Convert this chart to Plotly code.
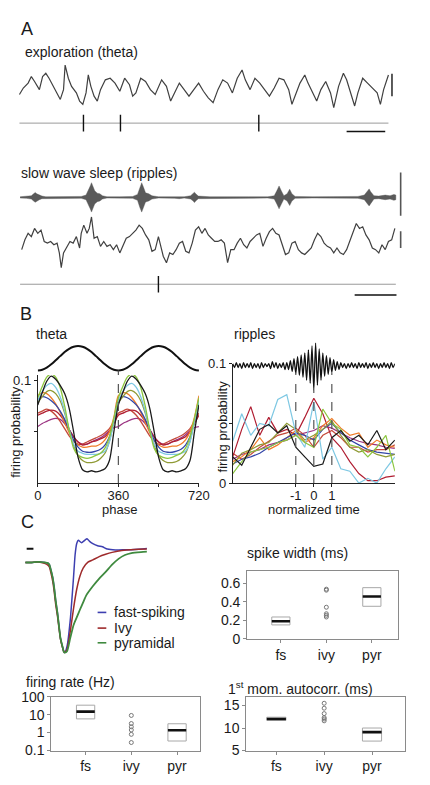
import plotly.graph_objects as go

W, H = 430, 785
FONT = "Liberation Sans, Arial, Helvetica, sans-serif"
TXT = "#1a1a1a"

# ======================= DATA =======================
# ---- Panel A : exploration (theta) LFP, time (ms) / amplitude (a.u.)
THETA_LFP_T = [48, 60, 75, 85, 95, 110, 120, 130, 140, 150, 160, 175, 185, 190, 200, 210, 225, 235, 245, 255,
               262, 270, 280, 290, 300, 315, 330, 345, 360, 375, 390, 400, 410, 425, 440, 455, 470, 490, 505, 518,
               530, 545, 560, 575, 590, 605, 620, 635, 650, 665, 680, 695, 710, 725, 740, 750, 765, 780, 795, 810,
               825, 840, 855, 870, 885, 895, 905, 920, 935, 945, 960, 972, 985, 1000, 1015, 1025, 1040, 1055, 1065,
               1080, 1090, 1100, 1115, 1130, 1145, 1160, 1170, 1180, 1195]
THETA_LFP_V = [-1.5, 0.5, 2.0, 4.0, 2.5, 0.0, 4.0, 5.0, 3.5, 1.5, -0.5, -3.0, 0.0, 7.5, 3.5, 1.0, -1.0, -3.5, -4.5, -1.0,
               4.5, 1.0, -2.0, -3.5, 0.0, 3.0, 3.5, 2.0, -0.5, 3.5, 1.5, -2.0, -1.0, 3.5, 2.5, 0.0, -1.5, 3.0, 1.0, -3.5,
               -1.0, 2.0, 0.0, -2.0, 0.0, 2.0, -0.5, -2.5, -4.0, 0.0, 3.0, 2.0, -1.0, 3.5, 6.0, 3.0, 0.0, 3.5, 2.0, 0.0,
               -2.0, 0.5, 3.5, 3.0, 0.0, -4.5, -2.0, 2.0, 4.5, 2.0, -1.0, -3.5, 0.0, 2.5, -1.0, -5.5, 1.0, 5.0, 3.0,
               -1.5, -5.0, -1.0, 3.5, 2.0, 0.5, -1.0, -4.5, 0.0, 4.5]
THETA_SPIKES_T = [247, 362, 792]

# ---- Panel A : slow wave sleep, ripple-band envelope and raw LFP
RIPPLE_ENV_T = [50, 70, 85, 92, 97, 102, 110, 118, 130, 160, 200, 240, 255, 262, 268, 272, 276, 282, 290, 298,
                306, 320, 360, 400, 415, 422, 428, 434, 440, 450, 460, 480, 530, 545, 560, 580, 588, 592, 596, 604,
                640, 700, 760, 820, 840, 848, 855, 862, 870, 880, 888, 895, 905, 960, 1040, 1100, 1120, 1130, 1135,
                1140, 1150, 1165, 1185, 1200, 1212, 1218]
RIPPLE_ENV = [0.2, 0.3, 0.5, 1.1, 1.5, 1.1, 0.7, 0.4, 0.2, 0.2, 0.3, 0.3, 0.7, 2.0, 3.5, 4.5, 3.5, 2.0, 1.3, 1.1,
              0.5, 0.2, 0.2, 0.3, 0.9, 3.0, 4.5, 3.0, 1.4, 1.1, 0.5, 0.2, 0.3, 0.4, 0.2, 0.5, 1.1, 1.6, 1.1, 0.4,
              0.2, 0.3, 0.2, 0.2, 0.5, 2.0, 3.5, 2.0, 0.5, 1.1, 2.5, 1.1, 0.3, 0.2, 0.2, 0.3, 0.7, 2.0, 2.6,
              1.7, 0.5, 0.4, 0.7, 0.5, 0.9, 0.7]
SLEEP_LFP_T = [55, 65, 75, 85, 95, 105, 115, 125, 135, 145, 155, 165, 172, 178, 185, 195, 205, 215, 225, 235,
               240, 248, 258, 265, 272, 280, 290, 300, 310, 320, 330, 340, 350, 360, 370, 380, 390, 400, 410, 420,
               430, 440, 450, 460, 470, 480, 487, 495, 505, 515, 525, 535, 545, 555, 565, 575, 585, 595, 605, 615,
               625, 635, 645, 655, 665, 675, 685, 695, 705, 715, 725, 735, 745, 755, 765, 775, 785, 795, 805, 815,
               825, 835, 845, 855, 865, 875, 885, 895, 905, 915, 925, 935, 945, 955, 965, 975, 985, 995, 1005, 1015,
               1025, 1035, 1045, 1055, 1065, 1075, 1085, 1095, 1105, 1115, 1125, 1135, 1145, 1155, 1165, 1175, 1185,
               1195, 1205, 1215]
SLEEP_LFP_V = [-1.5, 1.5, 3.5, 2.5, 5.0, 3.5, 4.5, 1.0, 0.5, 1.0, 0.0, 0.5, -2.5, -7.0, -2.5, -0.5, 1.0, 0.5, 2.5, -1.0,
               3.5, 6.0, 3.5, 5.0, 8.5, 2.0, 2.5, -0.5, 1.0, -0.5, 0.0, -1.5, 0.0, -2.5, -0.5, 2.0, 2.5, 3.5, 4.5, 6.0,
               5.0, 3.0, 1.5, -2.0, -1.5, 2.5, 0.0, -3.5, -5.5, -2.5, -3.0, -1.5, 0.5, 1.0, -2.0, -2.5, 0.5, 4.5, 5.5, 3.5,
               5.0, 3.0, 2.0, 1.0, 1.0, 1.5, 0.5, -5.5, -1.5, -1.5, 0.5, 2.0, 0.0, -1.0, 1.0, 2.0, 3.0, 3.5, -0.5, 2.0,
               4.0, 5.0, 3.5, 3.0, 0.0, -3.0, -2.5, 0.5, 1.0, -1.5, -2.5, -3.0, -2.0, -1.0, 1.5, 3.5, 2.5, 0.5, -0.5, -1.0,
               -2.5, -1.0, -2.5, -3.0, -1.5, 1.0, 3.5, 6.5, 5.0, 5.5, 3.0, 1.5, -1.0, -1.5, -2.5, 0.0, -1.5,
               1.0, 1.5, 5.0]
SLEEP_SPIKES_T = [480]

# ---- Panel B : phase preference (9 cells), one theta cycle (phase 0..340, step 20), shown twice
PHASE_CYCLE = [0, 20, 40, 60, 80, 100, 120, 140, 160, 180, 200, 220, 240, 260, 280, 300, 320, 340]
THETA_REF = [-1, -0.94, -0.77, -0.5, -0.17, 0.17, 0.5, 0.77, 0.94, 1, 0.94, 0.77, 0.5, 0.17, -0.17, -0.5, -0.77, -0.94]
CELL_COLORS = ["#1a1a1a", "#8cc63f", "#7ec8e3", "#8f9a34", "#3446a8", "#f07d2a", "#b01e32", "#c4493a", "#9b3382"]
THETA_PROB = [
    [0.076, 0.088, 0.099, 0.104, 0.101, 0.095, 0.087, 0.073, 0.050, 0.025, 0.013, 0.011, 0.012, 0.011, 0.012, 0.014, 0.022, 0.050],
    [0.083, 0.094, 0.103, 0.106, 0.103, 0.093, 0.075, 0.052, 0.034, 0.027, 0.025, 0.024, 0.025, 0.027, 0.029, 0.034, 0.045, 0.063],
    [0.080, 0.089, 0.095, 0.097, 0.093, 0.084, 0.070, 0.052, 0.038, 0.031, 0.029, 0.028, 0.028, 0.028, 0.029, 0.031, 0.040, 0.060],
    [0.078, 0.084, 0.089, 0.090, 0.087, 0.080, 0.068, 0.052, 0.037, 0.027, 0.022, 0.020, 0.020, 0.021, 0.024, 0.029, 0.041, 0.060],
    [0.081, 0.084, 0.083, 0.080, 0.076, 0.070, 0.062, 0.052, 0.042, 0.035, 0.031, 0.030, 0.030, 0.031, 0.033, 0.037, 0.045, 0.060],
    [0.085, 0.088, 0.087, 0.083, 0.077, 0.069, 0.059, 0.049, 0.041, 0.037, 0.035, 0.035, 0.036, 0.036, 0.038, 0.042, 0.050, 0.064],
    [0.066, 0.068, 0.070, 0.071, 0.070, 0.066, 0.060, 0.052, 0.045, 0.040, 0.037, 0.038, 0.040, 0.041, 0.043, 0.045, 0.050, 0.058],
    [0.068, 0.070, 0.072, 0.070, 0.066, 0.060, 0.053, 0.046, 0.041, 0.038, 0.038, 0.040, 0.042, 0.044, 0.046, 0.049, 0.053, 0.060],
    [0.055, 0.058, 0.060, 0.062, 0.063, 0.062, 0.058, 0.052, 0.045, 0.040, 0.038, 0.038, 0.040, 0.042, 0.044, 0.047, 0.051, 0.054],
]
THETA_MARKS = [360]

# ---- Panel B : ripple-triggered firing (normalized time -4.5..4.5, step 0.5)
RIPPLE_T = [-4.5, -4.0, -3.5, -3.0, -2.5, -2.0, -1.5, -1.0, -0.5, 0.0, 0.5, 1.0, 1.5, 2.0, 2.5, 3.0, 3.5, 4.0, 4.5]
RIPPLE_PROB = [
    [0.022, 0.015, 0.030, 0.045, 0.049, 0.042, 0.048, 0.030, 0.022, 0.014, 0.016, 0.038, 0.044, 0.035, 0.040, 0.032, 0.044, 0.028, 0.036],
    [0.008, 0.018, 0.026, 0.028, 0.030, 0.034, 0.036, 0.040, 0.034, 0.030, 0.062, 0.050, 0.045, 0.032, 0.030, 0.022, 0.030, 0.040, 0.010],
    [0.035, 0.058, 0.040, 0.050, 0.048, 0.070, 0.074, 0.042, 0.030, 0.068, 0.020, 0.030, 0.012, 0.010, 0.000, 0.004, 0.000, 0.012, 0.022],
    [0.015, 0.025, 0.028, 0.032, 0.034, 0.042, 0.050, 0.045, 0.036, 0.040, 0.045, 0.052, 0.040, 0.030, 0.026, 0.028, 0.024, 0.022, 0.024],
    [0.016, 0.020, 0.022, 0.025, 0.030, 0.034, 0.038, 0.042, 0.040, 0.036, 0.045, 0.050, 0.042, 0.036, 0.032, 0.028, 0.026, 0.025, 0.024],
    [0.018, 0.022, 0.028, 0.038, 0.028, 0.032, 0.038, 0.044, 0.034, 0.038, 0.048, 0.054, 0.046, 0.040, 0.042, 0.030, 0.036, 0.032, 0.030],
    [0.022, 0.045, 0.064, 0.040, 0.055, 0.042, 0.045, 0.040, 0.055, 0.071, 0.058, 0.038, 0.030, 0.018, 0.008, 0.002, 0.002, 0.005, 0.006],
    [0.025, 0.020, 0.024, 0.030, 0.035, 0.040, 0.042, 0.046, 0.040, 0.030, 0.040, 0.044, 0.038, 0.030, 0.030, 0.026, 0.028, 0.028, 0.032],
    [0.020, 0.024, 0.026, 0.028, 0.032, 0.034, 0.036, 0.040, 0.042, 0.044, 0.048, 0.046, 0.042, 0.038, 0.035, 0.033, 0.032, 0.030, 0.029],
]
RIPPLE_MARKS = [-1, 0, 1]
# example ripple trace, extrema every 0.1 normalized time from -4.5 to 4.5
RIPPLE_TRACE_T0, RIPPLE_TRACE_DT = -4.5, 0.1
RIPPLE_TRACE = [2, -2, 3, -2, 2, -3, 3, -2, 2, -2, 3, -3, 2, -2, 2, -3, 3, -2, 2, -1,
                2, -3, 4, -2, 3, -3, 2, -2, 3, -4, 3,
                -4, 5, -6, 7, -8, 9, -10, 11, -12, 13, -15, 16, -18, 20, -25, 23, -20, 17, -15, 13,
                -11, 10, -9, 8, -7, 6, -5, 4, -4,
                3, -2, 2, -3, 2, -2, 3, -2, 2, -3, 3, -2, 2, -2, 3, -3, 2, -2, 3, -2,
                2, -3, 2, -2, 3, -2, 2, -3, 3, -2, 2]

# ---- Panel C : average spike waveforms (time ms, normalized amplitude)
WAVE_LABELS = ["fast-spiking", "Ivy", "pyramidal"]
WAVE_COLORS = ["#3d3fb0", "#9e2a2b", "#3f8a3f"]
WAVE_T = [
    [-0.82, -0.69, -0.55, -0.42, -0.35, -0.32, -0.29, -0.25, -0.22, -0.19, -0.15, -0.12, -0.09, -0.05, -0.02, 0.0,
     0.047, 0.113, 0.18, 0.213, 0.247, 0.28, 0.347, 0.413, 0.46, 0.513, 0.58, 0.68, 0.78, 0.88, 1.047, 1.247, 1.447, 1.713],
    [-0.82, -0.69, -0.55, -0.42, -0.35, -0.32, -0.29, -0.25, -0.22, -0.19, -0.15, -0.12, -0.09, -0.05, -0.02, 0.0,
     0.047, 0.113, 0.18, 0.247, 0.313, 0.38, 0.48, 0.58, 0.713, 0.847, 0.98, 1.18, 1.447, 1.713],
    [-0.82, -0.69, -0.55, -0.42, -0.35, -0.32, -0.29, -0.25, -0.22, -0.19, -0.15, -0.12, -0.09, -0.05, -0.02, 0.0,
     0.047, 0.113, 0.18, 0.247, 0.313, 0.38, 0.447, 0.58, 0.713, 0.847, 0.98, 1.113, 1.247, 1.38, 1.58, 1.713],
]
WAVE_A = [
    [0, 0, 0.007, 0, -0.007, -0.025, -0.08, -0.17, -0.28, -0.42, -0.57, -0.71, -0.84, -0.93, -0.99, -1.0,
     -0.93, -0.64, -0.17, 0.083, 0.21, 0.246, 0.22, 0.246, 0.264, 0.235, 0.21, 0.185, 0.174, 0.149, 0.138, 0.141, 0.145, 0.156],
    [0, 0, 0.005, -0.01, -0.03, -0.05, -0.11, -0.21, -0.32, -0.46, -0.6, -0.73, -0.85, -0.94, -0.99, -1.0,
     -0.967, -0.768, -0.514, -0.297, -0.152, -0.062, 0.004, 0.029, 0.065, 0.091, 0.112, 0.134, 0.145, 0.149],
    [0, 0, 0.007, 0, -0.007, -0.025, -0.08, -0.17, -0.28, -0.42, -0.57, -0.71, -0.84, -0.93, -0.99, -1.0,
     -0.986, -0.84, -0.696, -0.609, -0.525, -0.442, -0.362, -0.264, -0.178, -0.105, -0.025, 0.04, 0.083, 0.105, 0.116, 0.12],
]

# ---- Panel C : group statistics (fs, ivy, pyr)
GROUPS = ["fs", "ivy", "pyr"]
BOX_GROUPS = [1, 3]           # groups summarised as boxes (fs, pyr); ivy shown as individual cells
SW_Q1, SW_MED, SW_Q3 = [0.15, 0.35], [0.19, 0.455], [0.235, 0.55]
SW_IVY = [0.534, 0.523, 0.34, 0.27, 0.253, 0.235]
FR_Q1, FR_MED, FR_Q3 = [5.8, 0.34], [14.7, 1.35], [33.6, 3.1]
FR_IVY = [9.0, 3.2, 2.1, 1.4, 0.8, 0.28]
AC_Q1, AC_MED, AC_Q3 = [11.7, 7.1], [12.0, 9.1], [12.4, 10.0]
AC_IVY = [15.5, 14.4, 13.2, 12.3, 12.0, 11.6]

# ======================= FIGURE =======================
fig = go.Figure()


def dx(a, b):
    return [a / W, b / W]


def dy(top, bottom):
    return [1 - bottom / H, 1 - top / H]


def add(tr, xa, ya):
    tr.update(xaxis=xa, yaxis=ya, showlegend=False, hoverinfo="skip")
    fig.add_trace(tr)


# ---- Panel A
add(go.Scatter(x=THETA_LFP_T, y=THETA_LFP_V, mode="lines", line=dict(color="#404040", width=1.2)), "x", "y")


def raster(spikes, t0, t1, ya):
    add(go.Scatter(x=[t0, t1], y=[0, 0], mode="lines", line=dict(color="#9a9a9a", width=1)), "x", ya)
    xs, ys = [], []
    for s in spikes:
        xs += [s, s, None]
        ys += [-0.85, 0.85, None]
    add(go.Scatter(x=xs, y=ys, mode="lines", line=dict(color="#111", width=1.4)), "x", ya)


raster(THETA_SPIKES_T, THETA_LFP_T[0], THETA_LFP_T[-1], "y2")

add(go.Scatter(x=RIPPLE_ENV_T + RIPPLE_ENV_T[::-1],
               y=RIPPLE_ENV + [-e for e in RIPPLE_ENV[::-1]],
               mode="lines", fill="toself", fillcolor="#5a5a5a",
               line=dict(color="#5a5a5a", width=0.4)), "x", "y3")
add(go.Scatter(x=SLEEP_LFP_T, y=SLEEP_LFP_V, mode="lines", line=dict(color="#404040", width=1.2)), "x", "y4")
raster(SLEEP_SPIKES_T, RIPPLE_ENV_T[0], RIPPLE_ENV_T[-1], "y5")

# ---- Panel B theta
phase_full = PHASE_CYCLE + [p + 360 for p in PHASE_CYCLE] + [720]
add(go.Scatter(x=phase_full, y=THETA_REF + THETA_REF + [THETA_REF[0]], mode="lines",
               line=dict(color="#111", width=2, shape="spline")), "x2", "y7")
for i in range(len(THETA_PROB) - 1, -1, -1):
    vals = THETA_PROB[i]
    add(go.Scatter(x=phase_full, y=vals + vals + [vals[0]], mode="lines",
                   line=dict(color=CELL_COLORS[i], width=1.3, shape="spline", smoothing=0.8)), "x2", "y6")

# ---- Panel B ripples
rt = [RIPPLE_TRACE_T0 + RIPPLE_TRACE_DT * k for k in range(len(RIPPLE_TRACE))]
add(go.Scatter(x=rt, y=RIPPLE_TRACE, mode="lines", line=dict(color="#111", width=1.3, shape="spline", smoothing=0.6)),
    "x3", "y9")
for i in range(len(RIPPLE_PROB) - 1, -1, -1):
    add(go.Scatter(x=RIPPLE_T, y=RIPPLE_PROB[i], mode="lines",
                   line=dict(color=CELL_COLORS[i], width=1.2)), "x3", "y8")

# ---- Panel C waveforms
for i in range(len(WAVE_T)):
    add(go.Scatter(x=WAVE_T[i], y=WAVE_A[i], mode="lines",
                   line=dict(color=WAVE_COLORS[i], width=1.8 if i == 2 else 1.5, shape="spline", smoothing=0.5)),
        "x4", "y10")


# ---- Panel C statistics
def stats(q1, med, q3, ivy, xa, ya, hw=0.2):
    for g, a, m, b in zip(BOX_GROUPS, q1, med, q3):
        add(go.Scatter(x=[g - hw, g + hw, g + hw, g - hw, g - hw], y=[a, a, b, b, a], mode="lines",
                       line=dict(color="#a8a8a8", width=1)), xa, ya)
        add(go.Scatter(x=[g - hw, g + hw], y=[m, m], mode="lines", line=dict(color="#111", width=2.6)), xa, ya)
    add(go.Scatter(x=[2] * len(ivy), y=ivy, mode="markers",
                   marker=dict(symbol="circle-open", size=4, color="#777", line=dict(width=1))), xa, ya)


stats(SW_Q1, SW_MED, SW_Q3, SW_IVY, "x5", "y11")
stats(FR_Q1, FR_MED, FR_Q3, FR_IVY, "x6", "y12")
stats(AC_Q1, AC_MED, AC_Q3, AC_IVY, "x7", "y13")

# ======================= AXES =======================
hidden = dict(visible=False, fixedrange=True, showgrid=False, zeroline=False)
shown = dict(showline=True, linecolor="#222", linewidth=1, ticks="outside", ticklen=3, tickwidth=1,
             tickcolor="#222", showgrid=False, zeroline=False, fixedrange=True,
             tickfont=dict(size=13, family=FONT, color=TXT))
minor_ticks = dict(ticks="outside", ticklen=3, tickwidth=1, tickcolor="#222", showgrid=False)
boxax = dict(showline=True, mirror=True, linecolor="#8a8a8a", linewidth=1, ticks="outside", ticklen=3,
             tickwidth=1, tickcolor="#8a8a8a", showgrid=False, zeroline=False, fixedrange=True,
             tickfont=dict(size=14, family=FONT, color=TXT))

fig.update_layout(
    width=W, height=H, margin=dict(l=0, r=0, t=0, b=0),
    paper_bgcolor="white", plot_bgcolor="rgba(0,0,0,0)",
    font=dict(family=FONT, color=TXT),
    xaxis=dict(domain=[0, 1], range=[0, 1290], anchor="y", **hidden),
    yaxis=dict(domain=dy(50, 110), range=[-8, 10], anchor="x", **hidden),
    yaxis2=dict(domain=dy(105, 130), range=[-1.25, 1.25], anchor="x", **hidden),
    yaxis3=dict(domain=dy(160, 225), range=[-9.5, 10], anchor="x", **hidden),
    yaxis4=dict(domain=dy(205, 270), range=[-8.5, 11], anchor="x", **hidden),
    yaxis5=dict(domain=dy(267, 297), range=[-1.5, 1.5], anchor="x", **hidden),
    xaxis2=dict(domain=dx(35, 202), range=[0, 720], anchor="y6", ticklabelstandoff=-3,
                tickvals=[0, 360, 720], ticktext=["0", "360", "720"],
                minor=dict(tickvals=[180, 540], **minor_ticks), **shown),
    yaxis6=dict(domain=dy(374.75, 485), range=[0, 0.105], anchor="x2",
                tickvals=[0.1], ticktext=["0.1"],
                minor=dict(tickvals=[0.05], **minor_ticks), **shown),
    yaxis7=dict(domain=dy(335, 380), range=[-1.8, 1.8], anchor="x2", **hidden),
    xaxis3=dict(domain=dx(237, 405), range=[-4.5, 4.5], anchor="y8", ticklabelstandoff=-3,
                tickvals=[-1, 0, 1], ticktext=["-1", "0", "1"], **shown),
    yaxis8=dict(domain=dy(363, 485), range=[0, 0.1], anchor="x3",
                tickvals=[0, 0.1], ticktext=["0", "0.1"],
                minor=dict(tickvals=[0.05], **minor_ticks), **shown),
    yaxis9=dict(domain=dy(335, 395), range=[-30, 30], anchor="x3", **hidden),
    xaxis4=dict(domain=dx(22, 148), range=[-0.82, 1.70], anchor="y10", **hidden),
    yaxis10=dict(domain=dy(540, 660), range=[-1.022, 0.283], anchor="x4", **hidden),
    xaxis5=dict(domain=dx(252, 408), range=[0.26, 3.57], anchor="y11",
                tickvals=[1, 2, 3], ticktext=GROUPS, **boxax),
    yaxis11=dict(domain=dy(575, 644), range=[0, 0.726], anchor="x5",
                 tickvals=[0, 0.2, 0.4, 0.6], ticktext=["0", "0.2", "0.4", "0.6"], **boxax),
    xaxis6=dict(domain=dx(49, 203), range=[0.25, 3.5], anchor="y12",
                tickvals=[1, 2, 3], ticktext=GROUPS, **boxax),
    yaxis12=dict(domain=dy(703, 758), type="log", range=[-1, 2], anchor="x6",
                 tickvals=[0.1, 1, 10, 100], ticktext=["0.1", "1", "10", "100"], **boxax),
    xaxis7=dict(domain=dx(251, 415), range=[0.37, 3.68], anchor="y13",
                tickvals=[1, 2, 3], ticktext=GROUPS, **boxax),
    yaxis13=dict(domain=dy(703, 758), range=[5, 16.96], anchor="x7",
                 tickvals=[5, 10, 15], ticktext=["5", "10", "15"], **boxax),
)

# ======================= DECORATIONS =======================
shapes = []


def seg(xref, yref, x0, y0, x1, y1, color="#111", width=1.4, dash="solid"):
    shapes.append(dict(type="line", xref=xref, yref=yref, x0=x0, y0=y0, x1=x1, y1=y1,
                       line=dict(color=color, width=width, dash=dash), layer="above"))


# scale bars panel A
seg("x", "y", 1206, -2.0, 1206, 4.9, color="#333", width=1.6)
seg("x", "y2", 1065, -0.85, 1185, -0.85, width=1.5)
seg("x", "y3", 1233, -5.6, 1233, 7.6, color="#555", width=1.6)
seg("x", "y4", 1233, -1.0, 1233, 4.1, color="#555", width=1.6)
seg("x", "y5", 1090, -1.1, 1220, -1.1, width=1.5)

# reference dashed lines panel B
for p in THETA_MARKS:
    seg("x2", "paper", p, 1 - 485 / H, p, 1 - 370 / H, color="#555", width=1.2, dash="dash")
for t in RIPPLE_MARKS:
    top = 390 if t == 0 else 372
    seg("x3", "paper", t, 1 - 485 / H, t, 1 - top / H, color="#555", width=1.2, dash="dash")

# waveform amplitude bar
seg("x4", "y10", -0.79, 0.152, -0.65, 0.152, width=2)

# manual legend for waveforms
LEG_Y = [617, 633, 648]
for i, col in enumerate(WAVE_COLORS):
    seg("paper", "paper", 97 / W, 1 - LEG_Y[i] / H, 106 / W, 1 - LEG_Y[i] / H, color=col, width=1.6)

fig.update_layout(shapes=shapes)


def text(xpx, ypx, s, size=14, xanchor="left", angle=0):
    fig.add_annotation(x=xpx / W, y=1 - ypx / H, xref="paper", yref="paper", text=s, showarrow=False,
                       xanchor=xanchor, yanchor="middle", textangle=angle, borderpad=0,
                       font=dict(size=size, family=FONT, color=TXT))


text(17, 21, "A", size=18)
text(21, 45, "exploration (theta)", size=14)
text(17, 168, "slow wave sleep (ripples)", size=14)
text(16, 312, "B", size=18)
text(32, 333, "theta", size=14)
text(237, 333, "ripples", size=14)
text(17, 525, "C", size=18)
text(120, 512, "phase", size=13, xanchor="center")
text(321, 512, "normalized time", size=13, xanchor="center")
text(12, 433, "firing probability", size=13, xanchor="center", angle=-90)
text(226, 427, "firing probability", size=13, xanchor="center", angle=-90)
for i, lab in enumerate(WAVE_LABELS):
    text(113, LEG_Y[i], lab, size=14)
text(251, 556, "spike width (ms)", size=14)
text(22, 688, "firing rate (Hz)", size=14)
text(231, 694, "1<sup>st</sup> mom. autocorr. (ms)", size=14)

fig.write_html("out.html", config={"displayModeBar": False},
               post_script="document.body.style.margin='0';")
